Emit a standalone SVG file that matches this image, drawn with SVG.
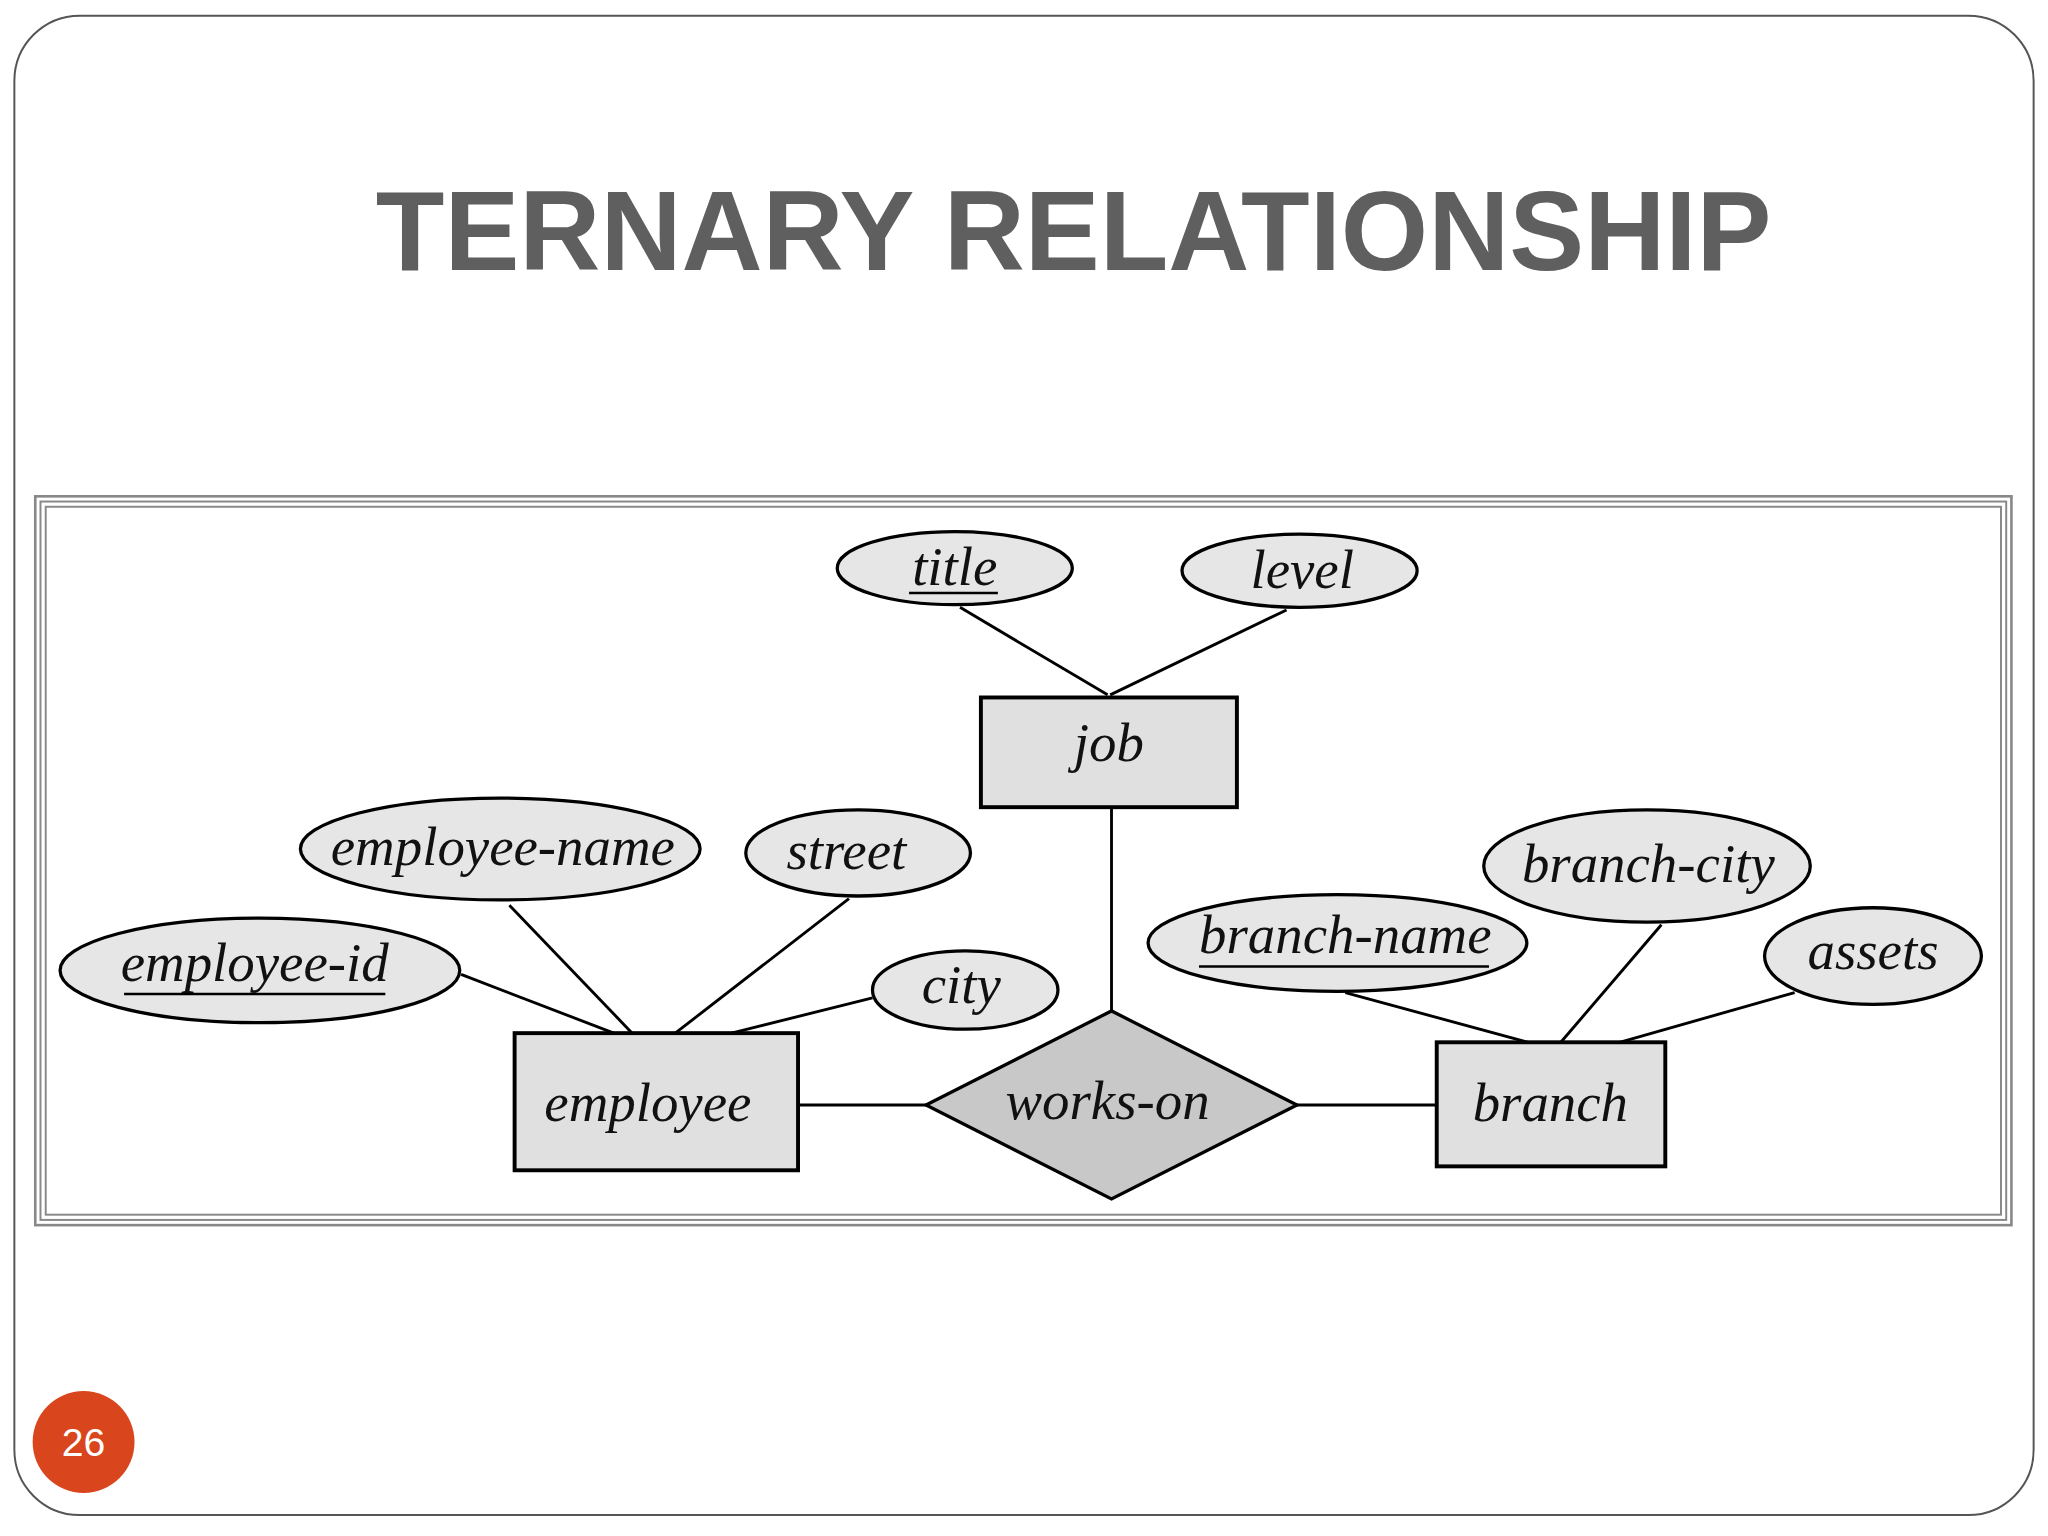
<svg xmlns="http://www.w3.org/2000/svg" width="2048" height="1536" viewBox="0 0 2048 1536">
<style>
.e{fill:#e6e6e6;stroke:#000;stroke-width:2.5}
.r{fill:#e0e0e0;stroke:#000;stroke-width:3}
.t{font-family:"Liberation Serif",serif;font-style:italic;font-size:42px;fill:#111;text-anchor:middle}
.c line{stroke:#000;stroke-width:2.2}
.u{stroke:#000;stroke-width:2}
</style>
<rect width="2048" height="1536" fill="#fff"/>
<g transform="scale(1.30612)">
<rect x="11" y="12" width="1546" height="1148" rx="50" fill="#fff" stroke="#555" stroke-width="1.5"/>
<text x="822" y="207" font-family="Liberation Sans,Arial,sans-serif" font-weight="bold" font-size="86" fill="#5f5f5f" text-anchor="middle">TERNARY RELATIONSHIP</text>
<rect x="27" y="380" width="1513" height="558" fill="#fff" stroke="#888" stroke-width="2"/>
<rect x="31" y="384" width="1505" height="550" fill="none" stroke="#888" stroke-width="1.5"/>
<rect x="35" y="388" width="1497" height="542" fill="none" stroke="#888" stroke-width="1.5"/>
<g class="c" id="connectors">
<line x1="735" y1="465" x2="848" y2="532"/><line x1="985" y1="467" x2="850" y2="532"/>
<line x1="851" y1="618" x2="851" y2="774"/>
<line x1="353" y1="746" x2="470" y2="791"/><line x1="390" y1="693" x2="484" y2="791"/>
<line x1="650" y1="688" x2="517" y2="791"/><line x1="668" y1="764" x2="560" y2="791"/>
<line x1="611" y1="846" x2="709" y2="846"/><line x1="993" y1="846" x2="1100" y2="846"/>
<line x1="1030" y1="760" x2="1170" y2="798"/><line x1="1272" y1="708" x2="1195" y2="798"/>
<line x1="1374" y1="760" x2="1240" y2="798"/>
</g>
<g id="title"><ellipse class="e" cx="731" cy="435" rx="90" ry="28"/><text class="t" x="731" y="448">title</text><line class="u" x1="696" y1="454" x2="764" y2="454"/></g>
<g id="level"><ellipse class="e" cx="995" cy="437" rx="90" ry="28"/><text class="t" x="997" y="450">level</text></g>
<g id="job"><rect class="r" x="751" y="534" width="196" height="84"/><text class="t" x="849" y="583">job</text></g>
<g id="employee-name"><ellipse class="e" cx="383" cy="650" rx="153" ry="39"/><text class="t" x="385" y="662">employee-name</text></g>
<g id="street"><ellipse class="e" cx="657" cy="653" rx="86" ry="33"/><text class="t" x="648" y="665">street</text></g>
<g id="employee-id"><ellipse class="e" cx="199" cy="743" rx="153" ry="40"/><text class="t" x="195" y="751">employee-id</text><line class="u" x1="95" y1="761" x2="295" y2="761"/></g>
<g id="city"><ellipse class="e" cx="739" cy="758" rx="71" ry="30"/><text class="t" x="736" y="768">city</text></g>
<g id="employee"><rect class="r" x="394" y="791" width="217" height="105"/><text class="t" x="496" y="858">employee</text></g>
<g id="works-on"><polygon points="709,846 851,774 993,846 851,918" fill="#c8c8c8" stroke="#000" stroke-width="2.5"/><text class="t" x="848" y="857">works-on</text></g>
<g id="branch"><rect class="r" x="1100" y="798" width="175" height="95"/><text class="t" x="1187" y="858">branch</text></g>
<g id="branch-name"><ellipse class="e" cx="1024" cy="722" rx="145" ry="37"/><text class="t" x="1030" y="730">branch-name</text><line class="u" x1="918" y1="740" x2="1140" y2="740"/></g>
<g id="branch-city"><ellipse class="e" cx="1261" cy="663" rx="125" ry="43"/><text class="t" x="1262" y="675">branch-city</text></g>
<g id="assets"><ellipse class="e" cx="1434" cy="732" rx="83" ry="37"/><text class="t" x="1434" y="742">assets</text></g>
<circle cx="64" cy="1104" r="39" fill="#d9451c"/>
<text x="64" y="1115" font-family="Liberation Sans,Arial,sans-serif" font-size="30" fill="#fff" text-anchor="middle">26</text>
</g>
</svg>
